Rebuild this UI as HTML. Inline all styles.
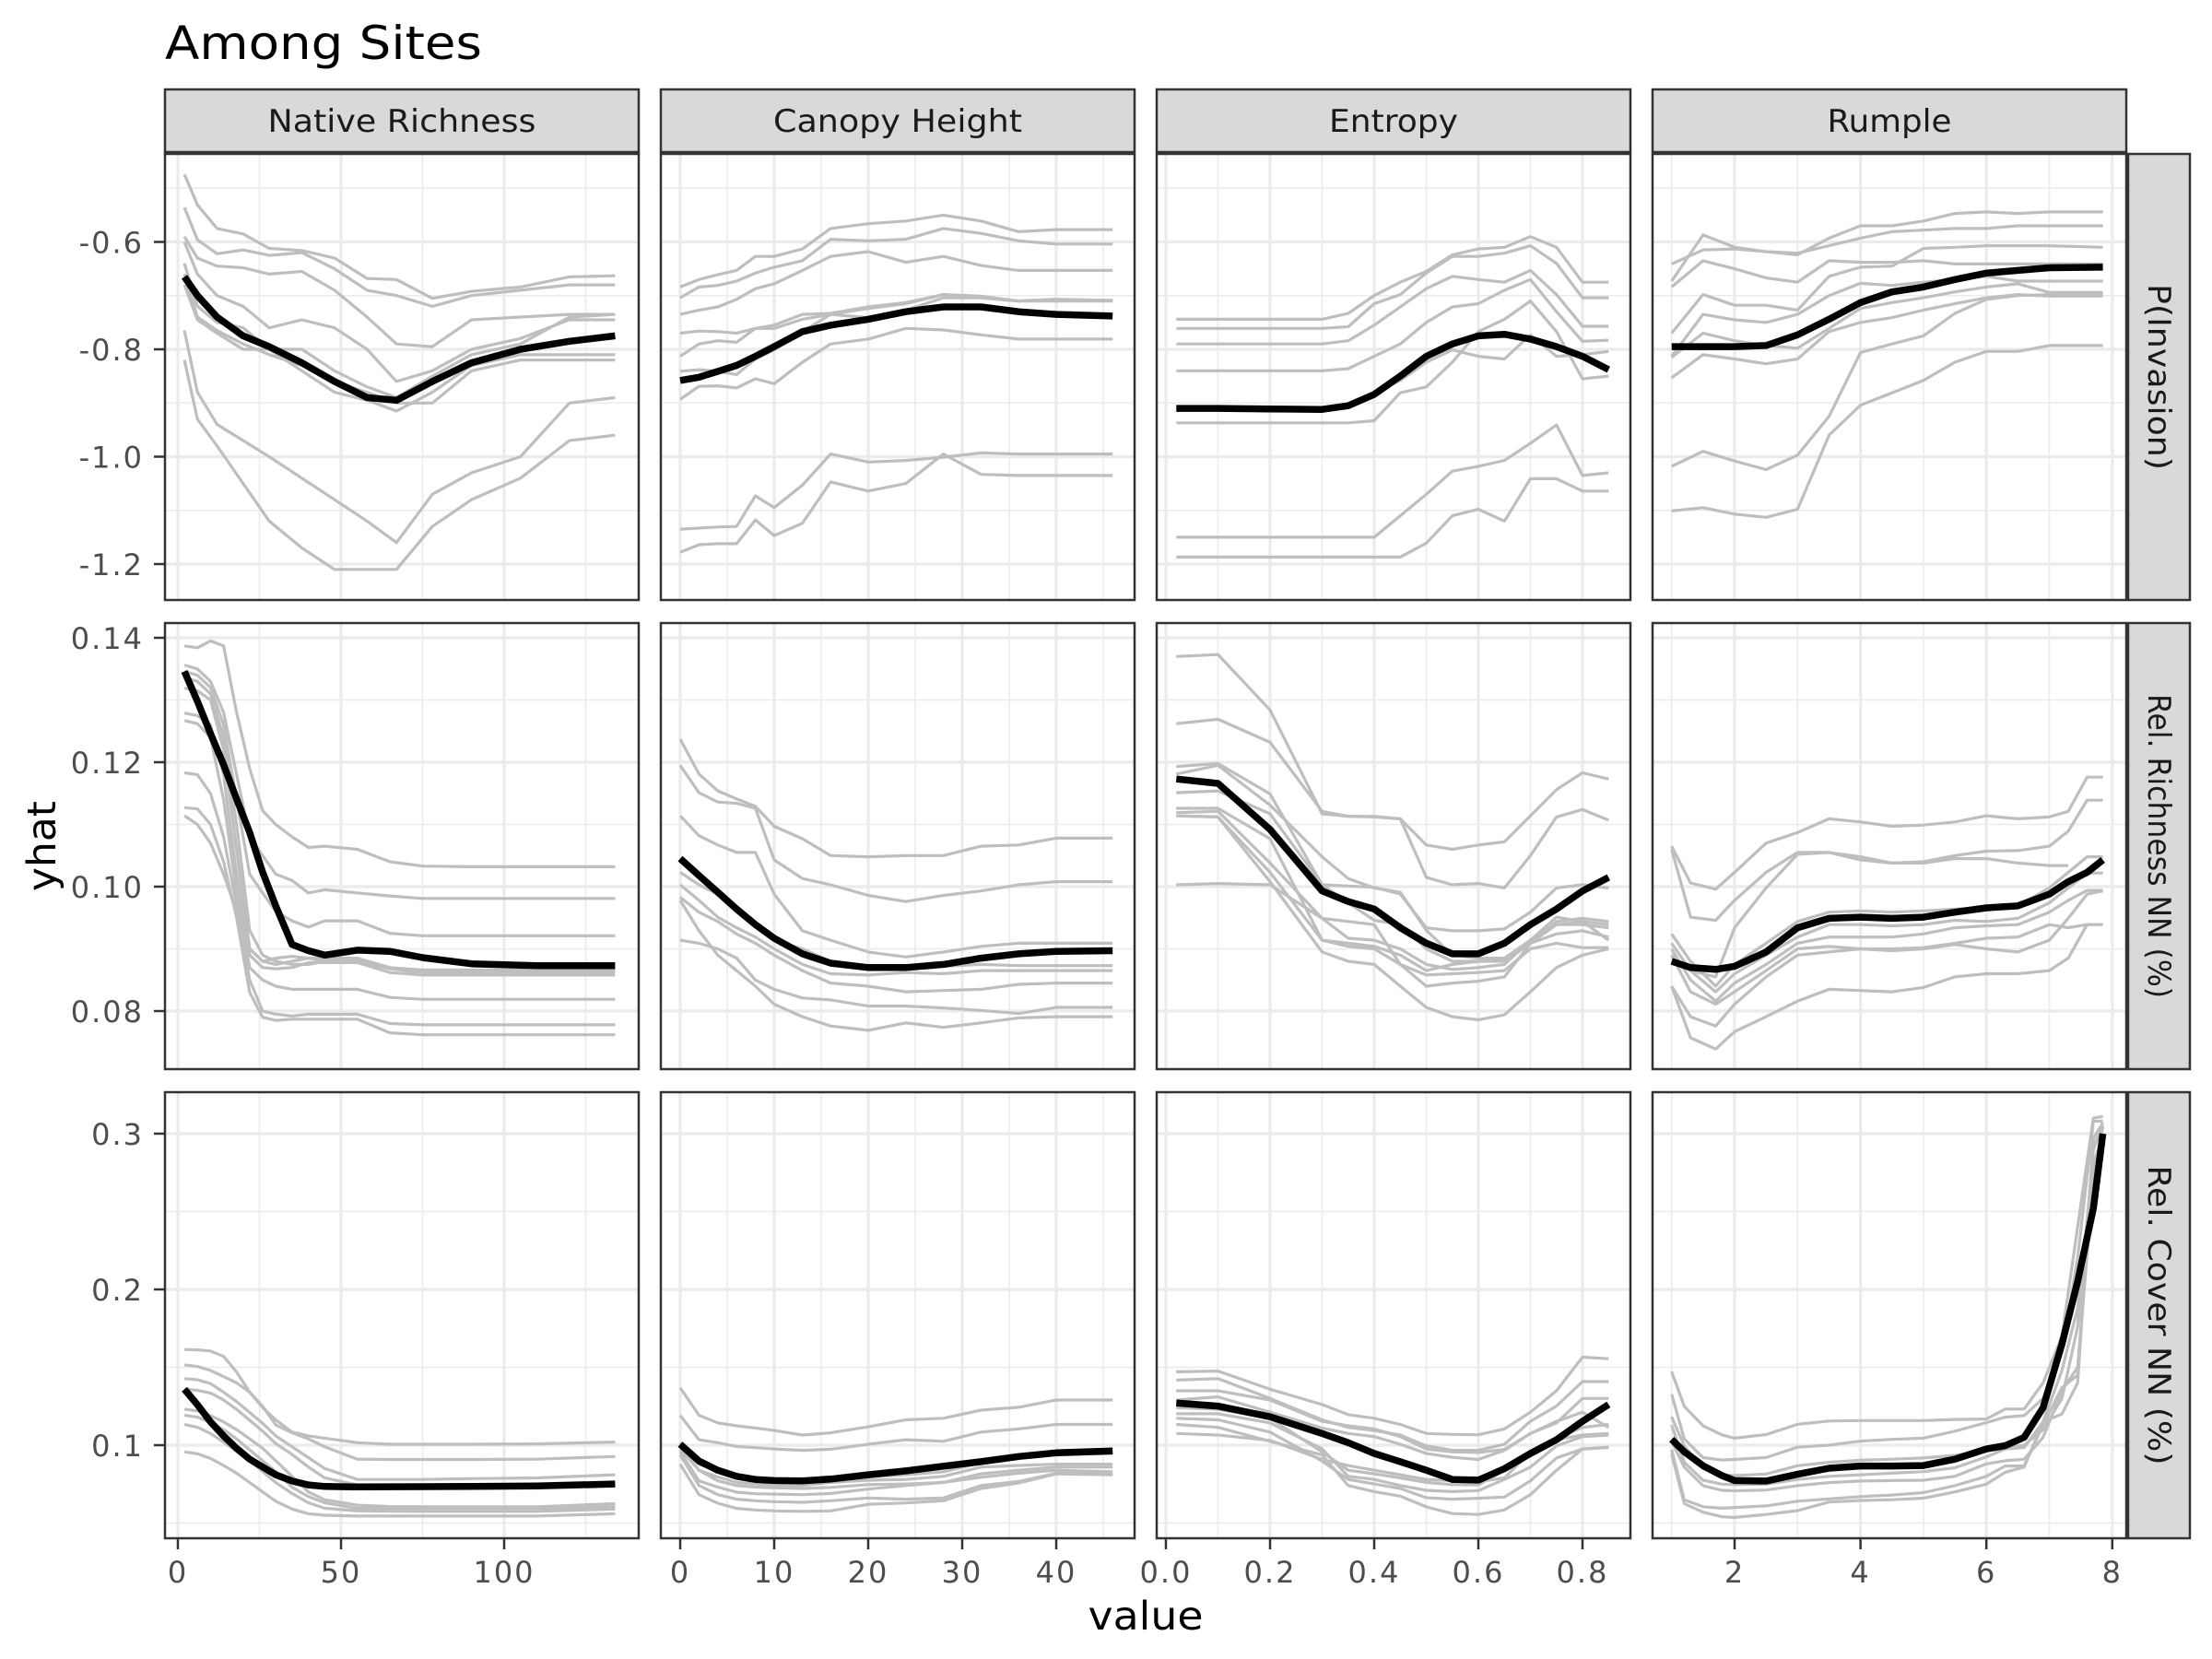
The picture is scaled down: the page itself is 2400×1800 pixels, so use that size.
<!DOCTYPE html>
<html><head><meta charset="utf-8"><style>
html,body{margin:0;padding:0;background:#fff;}
svg{display:block;font-family:"DejaVu Sans","Liberation Sans",sans-serif;}
</style></head><body>
<svg id="chart" width="2400" height="1800" viewBox="0 0 2400 1800" xmlns="http://www.w3.org/2000/svg">
<rect width="2400" height="1800" fill="#fff"/>
<text x="179" y="64" font-size="50" textLength="344" lengthAdjust="spacingAndGlyphs" fill="#000">Among Sites</text>
<text x="1243" y="1768" font-size="43" textLength="125" lengthAdjust="spacingAndGlyphs" fill="#000" text-anchor="middle">value</text>
<text transform="translate(60,918) rotate(-90)" font-size="43" textLength="98" lengthAdjust="spacingAndGlyphs" fill="#000" text-anchor="middle">yhat</text>
</svg>
<script>
// ---------- data ----------
const colNames = ["Native Richness","Canopy Height","Entropy","Rumple"];
const colLabelWidths = [291,270,140,135];
const rowNames = ["P(Invasion)","Rel. Richness NN (%)","Rel. Cover NN (%)"];
const rowLabelWidths = [202,330,325];
const xTicks = [[0,50,100],[0,10,20,30,40],[0,0.2,0.4,0.6,0.8],[2,4,6,8]];
const xTickLabels = [["0","50","100"],["0","10","20","30","40"],["0.0","0.2","0.4","0.6","0.8"],["2","4","6","8"]];
const xMinor = [[25,75,125],[5,15,25,35,45],[0.1,0.3,0.5,0.7],[1,3,5,7]];
const yTicks = [[-0.6,-0.8,-1.0,-1.2],[0.14,0.12,0.10,0.08],[0.3,0.2,0.1]];
const yTickLabels = [["-0.6","-0.8","-1.0","-1.2"],["0.14","0.12","0.10","0.08"],["0.3","0.2","0.1"]];
const yMinor = [[-0.5,-0.7,-0.9,-1.1],[0.09,0.11,0.13],[0.05,0.15,0.25]];

const xNative = [2,6,12,20,28,38,48,58,67,78,90,105,120,134];
const xNative2 = [2,6,10,14,18,22,26,30,35,40,45,55,65,75,90,110,134];
const xCanopy = [0,2,4,6,8,10,13,16,20,24,28,32,36,40,46];
const xEntropy = [0.02,0.1,0.2,0.3,0.35,0.4,0.45,0.5,0.55,0.6,0.65,0.7,0.75,0.8,0.85];
const xRumple1 = [1.0,1.5,2.0,2.5,3.0,3.5,4.0,4.5,5.0,5.5,6.0,6.5,7.0,7.85];
const xRumple2 = [1.0,1.3,1.7,2.0,2.5,3.0,3.5,4.0,4.5,5.0,5.5,6.0,6.5,7.0,7.3,7.6,7.85];
const xRumple3 = [1.0,1.2,1.5,1.8,2.0,2.5,3.0,3.5,4.0,4.5,5.0,5.5,6.0,6.3,6.6,6.9,7.2,7.45,7.7,7.85];

// row 1: P(Invasion)
const gray11 = [
[-0.474,-0.531,-0.575,-0.585,-0.612,-0.616,-0.630,-0.668,-0.670,-0.705,-0.692,-0.684,-0.665,-0.663],
[-0.536,-0.596,-0.622,-0.615,-0.625,-0.620,-0.650,-0.690,-0.700,-0.720,-0.700,-0.690,-0.680,-0.680],
[-0.590,-0.630,-0.645,-0.648,-0.660,-0.655,-0.690,-0.740,-0.790,-0.795,-0.745,-0.740,-0.735,-0.735],
[-0.600,-0.660,-0.700,-0.720,-0.760,-0.745,-0.760,-0.800,-0.860,-0.840,-0.800,-0.780,-0.745,-0.745],
[-0.640,-0.720,-0.750,-0.760,-0.800,-0.800,-0.840,-0.870,-0.890,-0.850,-0.810,-0.790,-0.740,-0.735],
[-0.660,-0.740,-0.765,-0.790,-0.810,-0.830,-0.860,-0.880,-0.900,-0.900,-0.840,-0.820,-0.820,-0.820],
[-0.680,-0.745,-0.770,-0.800,-0.800,-0.840,-0.880,-0.895,-0.915,-0.880,-0.830,-0.810,-0.810,-0.810],
[-0.765,-0.880,-0.940,-0.970,-1.000,-1.040,-1.080,-1.120,-1.160,-1.070,-1.030,-1.000,-0.900,-0.890],
[-0.820,-0.930,-0.980,-1.050,-1.120,-1.170,-1.210,-1.210,-1.210,-1.130,-1.080,-1.040,-0.970,-0.960]];
const mean11 = [-0.665,-0.700,-0.740,-0.775,-0.795,-0.825,-0.860,-0.890,-0.895,-0.860,-0.825,-0.800,-0.785,-0.775];

const gray12 = [
[-0.684,-0.670,-0.661,-0.653,-0.627,-0.627,-0.613,-0.575,-0.566,-0.561,-0.550,-0.561,-0.581,-0.577,-0.577],
[-0.704,-0.684,-0.681,-0.673,-0.658,-0.647,-0.635,-0.595,-0.598,-0.595,-0.575,-0.584,-0.598,-0.604,-0.604],
[-0.735,-0.727,-0.721,-0.707,-0.687,-0.678,-0.653,-0.627,-0.618,-0.638,-0.627,-0.644,-0.653,-0.653,-0.653],
[-0.770,-0.766,-0.767,-0.770,-0.761,-0.755,-0.735,-0.733,-0.721,-0.713,-0.698,-0.701,-0.710,-0.710,-0.710],
[-0.813,-0.790,-0.784,-0.787,-0.761,-0.761,-0.744,-0.735,-0.741,-0.727,-0.704,-0.704,-0.710,-0.707,-0.709],
[-0.841,-0.838,-0.841,-0.847,-0.818,-0.801,-0.767,-0.735,-0.724,-0.715,-0.698,-0.704,-0.710,-0.707,-0.709],
[-0.893,-0.869,-0.868,-0.872,-0.855,-0.864,-0.824,-0.790,-0.781,-0.761,-0.764,-0.773,-0.781,-0.781,-0.781],
[-1.135,-1.133,-1.131,-1.130,-1.073,-1.095,-1.053,-0.995,-1.010,-1.007,-1.001,-0.993,-0.995,-0.995,-0.995],
[-1.178,-1.164,-1.162,-1.162,-1.118,-1.147,-1.124,-1.047,-1.064,-1.050,-0.995,-1.033,-1.035,-1.035,-1.035]];
const mean12 = [-0.858,-0.852,-0.841,-0.830,-0.813,-0.795,-0.767,-0.755,-0.744,-0.730,-0.721,-0.721,-0.730,-0.735,-0.738];

const gray13 = [
[-0.744,-0.744,-0.744,-0.744,-0.733,-0.700,-0.675,-0.655,-0.624,-0.613,-0.610,-0.590,-0.610,-0.675,-0.675],
[-0.761,-0.761,-0.761,-0.761,-0.758,-0.715,-0.698,-0.658,-0.627,-0.627,-0.621,-0.607,-0.640,-0.704,-0.704],
[-0.790,-0.790,-0.790,-0.790,-0.784,-0.755,-0.721,-0.687,-0.664,-0.670,-0.675,-0.653,-0.698,-0.757,-0.757],
[-0.840,-0.840,-0.840,-0.840,-0.836,-0.813,-0.790,-0.750,-0.721,-0.715,-0.690,-0.670,-0.730,-0.785,-0.783],
[-0.910,-0.910,-0.910,-0.910,-0.904,-0.881,-0.858,-0.824,-0.801,-0.813,-0.818,-0.773,-0.813,-0.810,-0.804],
[-0.937,-0.937,-0.937,-0.937,-0.937,-0.933,-0.881,-0.870,-0.824,-0.767,-0.744,-0.710,-0.767,-0.855,-0.850],
[-1.150,-1.150,-1.150,-1.150,-1.150,-1.150,-1.110,-1.070,-1.027,-1.018,-1.007,-0.975,-0.941,-1.035,-1.030],
[-1.187,-1.187,-1.187,-1.187,-1.187,-1.187,-1.187,-1.161,-1.110,-1.098,-1.120,-1.041,-1.041,-1.064,-1.064]];
const mean13 = [-0.910,-0.910,-0.911,-0.912,-0.905,-0.884,-0.850,-0.813,-0.790,-0.775,-0.772,-0.781,-0.795,-0.813,-0.838];

const gray14 = [
[-0.641,-0.615,-0.613,-0.618,-0.624,-0.593,-0.570,-0.570,-0.561,-0.547,-0.544,-0.547,-0.544,-0.544],
[-0.673,-0.587,-0.610,-0.618,-0.621,-0.607,-0.593,-0.581,-0.578,-0.575,-0.575,-0.570,-0.570,-0.570],
[-0.684,-0.635,-0.650,-0.667,-0.675,-0.635,-0.638,-0.638,-0.635,-0.641,-0.641,-0.641,-0.641,-0.641],
[-0.770,-0.698,-0.718,-0.718,-0.727,-0.664,-0.647,-0.645,-0.612,-0.610,-0.607,-0.607,-0.607,-0.610],
[-0.813,-0.735,-0.745,-0.750,-0.735,-0.700,-0.677,-0.681,-0.675,-0.670,-0.664,-0.673,-0.673,-0.673],
[-0.815,-0.770,-0.784,-0.793,-0.798,-0.761,-0.724,-0.713,-0.704,-0.693,-0.684,-0.678,-0.694,-0.694],
[-0.853,-0.810,-0.818,-0.827,-0.818,-0.767,-0.750,-0.741,-0.727,-0.715,-0.704,-0.698,-0.701,-0.701],
[-1.018,-0.990,-1.008,-1.024,-0.997,-0.925,-0.806,-0.790,-0.775,-0.733,-0.707,-0.700,-0.698,-0.698],
[-1.101,-1.095,-1.107,-1.113,-1.098,-0.960,-0.904,-0.881,-0.858,-0.824,-0.804,-0.804,-0.793,-0.793]];
const mean14 = [-0.795,-0.795,-0.795,-0.793,-0.773,-0.744,-0.713,-0.693,-0.684,-0.670,-0.658,-0.653,-0.648,-0.647];

// row 2: Rel. Richness NN
const gray21 = [
[0.1387,0.1384,0.1395,0.1387,0.128,0.119,0.1122,0.1100,0.1080,0.1063,0.1065,0.1060,0.1040,0.1033,0.1032,0.1032,0.1032],
[0.1356,0.1350,0.1330,0.128,0.118,0.108,0.1050,0.1020,0.1010,0.0990,0.0995,0.0990,0.0985,0.0981,0.0981,0.0981,0.0981],
[0.1346,0.1340,0.1320,0.126,0.114,0.102,0.0990,0.0960,0.0945,0.0935,0.0945,0.0945,0.0925,0.0921,0.0921,0.0921,0.0921],
[0.1336,0.1330,0.1310,0.124,0.110,0.093,0.0890,0.0880,0.0875,0.0875,0.0880,0.0885,0.0870,0.0866,0.0866,0.0866,0.0866],
[0.1319,0.1315,0.1300,0.122,0.106,0.090,0.0880,0.0875,0.0880,0.0885,0.0885,0.0885,0.0868,0.0862,0.0862,0.0862,0.0862],
[0.1279,0.1275,0.1260,0.118,0.102,0.089,0.0870,0.0868,0.0870,0.0878,0.0878,0.0878,0.0862,0.0858,0.0858,0.0858,0.0858],
[0.1267,0.1262,0.124,0.114,0.099,0.087,0.0850,0.0840,0.0835,0.0835,0.0835,0.0835,0.0822,0.0819,0.0819,0.0819,0.0819],
[0.1183,0.1180,0.115,0.108,0.097,0.085,0.0800,0.0795,0.0792,0.0795,0.0795,0.0795,0.0780,0.0778,0.0778,0.0778,0.0778],
[0.1127,0.1125,0.110,0.104,0.095,0.083,0.0790,0.0785,0.0787,0.0787,0.0787,0.0787,0.0765,0.0762,0.0762,0.0762,0.0762],
[0.1114,0.1100,0.107,0.102,0.096,0.090,0.0880,0.0885,0.0888,0.0885,0.0880,0.0880,0.0868,0.0866,0.0866,0.0866,0.0866]];
const mean21 = [0.1346,0.1298,0.1246,0.1196,0.1141,0.1087,0.1023,0.0969,0.0907,0.0897,0.0890,0.0898,0.0896,0.0886,0.0876,0.0873,0.0873];

const gray22 = [
[0.1237,0.1181,0.1154,0.1141,0.1129,0.1097,0.1077,0.1050,0.1048,0.1050,0.1050,0.1065,0.1067,0.1078,0.1078],
[0.1195,0.1151,0.1136,0.1134,0.1126,0.1043,0.1013,0.1003,0.0986,0.0976,0.0986,0.0993,0.1003,0.1008,0.1008],
[0.1114,0.1082,0.1067,0.1055,0.1055,0.0988,0.0929,0.0914,0.0895,0.0887,0.0895,0.0904,0.0909,0.0909,0.0909],
[0.1023,0.1003,0.0988,0.0964,0.0939,0.0914,0.0900,0.0880,0.0870,0.0872,0.0872,0.0875,0.0873,0.0873,0.0873],
[0.1003,0.0978,0.0951,0.0934,0.0919,0.0900,0.0875,0.0860,0.0858,0.0862,0.0860,0.0865,0.0865,0.0865,0.0865],
[0.0983,0.0959,0.0944,0.0924,0.0909,0.0890,0.0865,0.0845,0.0840,0.0831,0.0833,0.0835,0.0843,0.0845,0.0845],
[0.0914,0.0909,0.0900,0.0885,0.0850,0.0835,0.0821,0.0818,0.0808,0.0808,0.0805,0.0801,0.0796,0.0806,0.0806],
[0.0978,0.0929,0.0890,0.0865,0.0840,0.0811,0.0791,0.0776,0.0769,0.0781,0.0774,0.0781,0.0789,0.0791,0.0791]];
const mean22 = [0.1045,0.1018,0.0991,0.0964,0.0939,0.0917,0.0892,0.0877,0.0870,0.0870,0.0875,0.0885,0.0892,0.0896,0.0897];

const gray23 = [
[0.1370,0.1373,0.1284,0.1117,0.1113,0.1112,0.1109,0.1067,0.1060,0.1067,0.1072,0.1114,0.1156,0.1183,0.1173],
[0.1262,0.1269,0.1232,0.1121,0.1113,0.1113,0.1109,0.1015,0.1003,0.1005,0.0998,0.1050,0.1112,0.1124,0.1107],
[0.1193,0.1198,0.1149,0.1003,0.1001,0.0999,0.0988,0.0934,0.0929,0.0929,0.0932,0.0959,0.0998,0.1003,0.0998],
[0.1181,0.1195,0.1131,0.1048,0.1013,0.0998,0.0991,0.0930,0.0890,0.0885,0.0885,0.0909,0.0944,0.0949,0.0944],
[0.1151,0.1154,0.1117,0.1003,0.0974,0.0946,0.0939,0.0900,0.0880,0.0880,0.0885,0.0914,0.0939,0.0939,0.0934],
[0.1126,0.1126,0.1077,0.0914,0.0909,0.0904,0.0890,0.0865,0.0875,0.0880,0.0880,0.0909,0.0924,0.0929,0.0919],
[0.1119,0.1121,0.1038,0.0949,0.0917,0.0914,0.0900,0.0875,0.0867,0.0870,0.0875,0.0914,0.0951,0.0944,0.0914],
[0.1114,0.1112,0.1023,0.0914,0.0904,0.0900,0.0875,0.0858,0.0860,0.0862,0.0865,0.0900,0.0909,0.0902,0.0902],
[0.1003,0.1005,0.1003,0.0949,0.0944,0.0939,0.0875,0.0840,0.0845,0.0848,0.0855,0.0909,0.0939,0.0944,0.0939],
[0.1114,0.1112,0.1008,0.0895,0.0880,0.0875,0.0840,0.0806,0.0791,0.0786,0.0794,0.0831,0.0870,0.0890,0.0900]];
const mean23 = [0.1173,0.1166,0.1092,0.0993,0.0976,0.0964,0.0934,0.0909,0.0892,0.0892,0.0909,0.0939,0.0964,0.0993,0.1015];

const gray24 = [
[0.1065,0.1006,0.0996,0.1023,0.1070,0.1087,0.1109,0.1104,0.1097,0.1099,0.1104,0.1114,0.1109,0.1112,0.1121,0.1176,0.1176],
[0.1060,0.0951,0.0946,0.0978,0.1023,0.1055,0.1055,0.1048,0.1038,0.1040,0.1050,0.1057,0.1058,0.1065,0.1089,0.1139,0.1139],
[0.0890,0.0865,0.0855,0.0934,0.0998,0.1052,0.1055,0.1043,0.1038,0.1038,0.1045,0.1045,0.1038,0.1034,0.1034,null,null],
[0.0924,0.0880,0.0840,0.0875,0.0909,0.0944,0.0959,0.0961,0.0959,0.0961,0.0964,0.0966,0.0969,0.0998,0.1023,0.1048,0.1048],
[0.0909,0.0865,0.0831,0.0860,0.0890,0.0919,0.0939,0.0939,0.0937,0.0939,0.0946,0.0944,0.0949,0.0974,0.0998,0.1022,0.1022],
[0.0900,0.0850,0.0816,0.0845,0.0875,0.0909,0.0919,0.0919,0.0919,0.0924,0.0934,0.0937,0.0939,0.0959,0.0978,0.0994,0.0994],
[0.0840,0.0791,0.0776,0.0811,0.0855,0.0890,0.0895,0.0900,0.0900,0.0902,0.0909,0.0917,0.0919,0.0939,0.0934,0.0939,0.0939],
[0.0890,0.0831,0.0811,0.0831,0.0865,0.0900,0.0904,0.0900,0.0897,0.0900,0.0907,0.0900,0.0895,0.0914,0.0949,0.0988,0.0993],
[0.0840,0.0757,0.0739,0.0767,0.0791,0.0816,0.0835,0.0833,0.0831,0.0838,0.0855,0.0860,0.0860,0.0865,0.0885,0.0939,0.0939]];
const mean24 = [0.0880,0.0870,0.0867,0.0872,0.0895,0.0934,0.0949,0.0951,0.0949,0.0951,0.0959,0.0966,0.0969,0.0988,0.1008,0.1023,0.1043];

// row 3: Rel. Cover NN
const gray31 = [
[0.1614,0.1612,0.1605,0.1570,0.1470,0.1340,0.1240,0.1163,0.1084,0.1060,0.1045,0.1016,0.1006,0.1006,0.1006,0.1008,0.1020],
[0.1516,0.1505,0.1480,0.1440,0.1400,0.1340,0.1250,0.1130,0.1080,0.1040,0.0990,0.0910,0.0908,0.0908,0.0908,0.0910,0.0927],
[0.1427,0.1420,0.1395,0.1340,0.1280,0.1210,0.1140,0.1060,0.0990,0.0920,0.0850,0.0780,0.0780,0.0780,0.0785,0.0790,0.0810],
[0.1359,0.1352,0.1335,0.1290,0.1230,0.1160,0.1090,0.1010,0.0940,0.0860,0.0790,0.0745,0.0742,0.0740,0.0735,0.0735,0.0740],
[0.1231,0.1220,0.1190,0.1150,0.1100,0.1040,0.0980,0.0900,0.0800,0.0700,0.0650,0.0615,0.0606,0.0605,0.0605,0.0605,0.0624],
[0.1192,0.1180,0.1145,0.1100,0.1040,0.0970,0.0900,0.0830,0.0730,0.0670,0.0630,0.0594,0.0594,0.0594,0.0594,0.0594,0.0604],
[0.1133,0.1115,0.1075,0.1020,0.0960,0.0900,0.0830,0.0760,0.0690,0.0630,0.0595,0.0578,0.0576,0.0575,0.0575,0.0575,0.0590],
[0.0957,0.0945,0.0915,0.0870,0.0820,0.0760,0.0700,0.0640,0.0590,0.0560,0.0550,0.0545,0.0545,0.0545,0.0545,0.0545,0.0560]];
const mean31 = [0.1359,0.1260,0.1150,0.1060,0.0980,0.0910,0.0860,0.0810,0.0770,0.0745,0.0735,0.0732,0.0733,0.0734,0.0735,0.0738,0.0751];

const gray32 = [
[0.1369,0.1192,0.1143,0.1124,0.1110,0.1094,0.1065,0.1079,0.1118,0.1163,0.1173,0.1225,0.1243,0.1290,0.1290],
[0.1192,0.1035,0.1016,0.0992,0.0984,0.0976,0.0967,0.0974,0.1006,0.1035,0.1025,0.1084,0.1104,0.1133,0.1133],
[0.1016,0.0878,0.0835,0.0796,0.0780,0.0771,0.0761,0.0773,0.0796,0.0810,0.0829,0.0888,0.0927,0.0937,0.0947],
[0.0996,0.0839,0.0796,0.0761,0.0751,0.0745,0.0741,0.0761,0.0775,0.0780,0.0800,0.0859,0.0870,0.0878,0.0878],
[0.0976,0.0839,0.0771,0.0741,0.0731,0.0727,0.0722,0.0729,0.0747,0.0751,0.0761,0.0816,0.0839,0.0859,0.0859],
[0.0957,0.0771,0.0731,0.0698,0.0688,0.0686,0.0682,0.0690,0.0718,0.0741,0.0761,0.0794,0.0820,0.0839,0.0829],
[0.0937,0.0741,0.0682,0.0653,0.0643,0.0637,0.0633,0.0643,0.0661,0.0653,0.0661,0.0741,0.0767,0.0820,0.0820],
[0.0878,0.0682,0.0627,0.0594,0.0584,0.0578,0.0575,0.0578,0.0620,0.0629,0.0643,0.0722,0.0757,0.0816,0.0810]];
const mean32 = [0.1006,0.0898,0.0839,0.0800,0.0780,0.0773,0.0771,0.0782,0.0810,0.0835,0.0865,0.0894,0.0927,0.0951,0.0963];

const gray33 = [
[0.1471,0.1476,0.1359,0.1261,0.1196,0.1173,0.1133,0.1075,0.1069,0.1067,0.1104,0.1212,0.1349,0.1565,0.1555],
[0.1418,0.1427,0.1300,0.1163,0.1114,0.1094,0.1065,0.0996,0.0967,0.0967,0.1006,0.1153,0.1251,0.1408,0.1408],
[0.1349,0.1349,0.1290,0.1153,0.1124,0.1104,0.1055,0.0976,0.0957,0.0953,0.0973,0.1075,0.1143,0.1300,0.1300],
[0.1290,0.1310,0.1212,0.1110,0.1075,0.1055,0.1006,0.0947,0.0922,0.0908,0.0967,0.1075,0.1153,0.1212,0.1114],
[0.1241,0.1231,0.1173,0.0957,0.0839,0.0816,0.0790,0.0761,0.0747,0.0745,0.0839,0.0957,0.1045,0.1114,0.1133],
[0.1202,0.1202,0.1143,0.0976,0.0800,0.0780,0.0741,0.0710,0.0702,0.0708,0.0780,0.0859,0.0996,0.1055,0.1065],
[0.1173,0.1163,0.1084,0.0898,0.0780,0.0751,0.0722,0.0663,0.0653,0.0659,0.0667,0.0771,0.0918,0.0976,0.0986],
[0.1133,0.1114,0.1025,0.0937,0.0741,0.0702,0.0673,0.0604,0.0561,0.0555,0.0584,0.0682,0.0839,0.0976,0.0986],
[0.1075,0.1065,0.1031,0.0908,0.0869,0.0839,0.0810,0.0780,0.0771,0.0765,0.0790,0.0957,0.1035,0.1065,0.1075]];
const mean33 = [0.1271,0.1251,0.1182,0.1075,0.1016,0.0947,0.0894,0.0839,0.0780,0.0776,0.0849,0.0947,0.1035,0.1153,0.1261];

const gray34 = [
[0.1472,0.1250,0.1124,0.1066,0.1045,0.1068,0.1134,0.1155,0.1158,0.1158,0.1158,0.1165,0.1168,0.1232,0.1232,0.1400,0.1700,0.2400,0.3100,0.3110],
[0.1327,0.1040,0.0920,0.0905,0.0908,0.0921,0.0987,0.1000,0.1026,0.1037,0.1045,0.1090,0.1145,0.1180,0.1190,0.1300,0.1600,0.2200,0.3080,0.3080],
[0.1182,0.0995,0.0850,0.0810,0.0805,0.0815,0.0868,0.0890,0.0903,0.0910,0.0918,0.0935,0.0965,0.0985,0.1000,0.1100,0.1300,0.1760,0.2900,0.3050],
[0.1129,0.0890,0.0775,0.0750,0.0747,0.0750,0.0780,0.0800,0.0810,0.0820,0.0830,0.0855,0.0925,0.0975,0.0985,0.1150,0.1480,0.1880,0.2800,0.3000],
[0.1024,0.0860,0.0740,0.0710,0.0707,0.0712,0.0740,0.0760,0.0770,0.0773,0.0775,0.0800,0.0880,0.0900,0.0910,0.1050,0.1350,0.1500,0.2700,0.3050],
[0.0971,0.0650,0.0605,0.0595,0.0600,0.0610,0.0640,0.0655,0.0670,0.0680,0.0695,0.0740,0.0800,0.0866,0.0866,0.1130,0.1370,0.1450,0.2970,0.3070],
[0.0945,0.0625,0.0570,0.0540,0.0536,0.0555,0.0580,0.0635,0.0645,0.0650,0.0660,0.0700,0.0750,0.0826,0.0860,0.1150,0.1200,0.1400,0.2920,0.3040]];
const mean34 = [0.1037,0.0958,0.0868,0.0805,0.0773,0.0770,0.0813,0.0852,0.0866,0.0866,0.0869,0.0910,0.0976,0.0997,0.1050,0.1240,0.1650,0.2050,0.2520,0.3000];

// ---------- layout ----------
const svg = document.getElementById('chart');
const NS = 'http://www.w3.org/2000/svg';
const PX = [179,717,1255,1793], PW = 514;
const PY = [167,676,1185], PH = 484;
const xScales = [v=>193+3.54*v, v=>738+10.2*v, v=>1265+565*v, v=>1882+68.3*(v-2)];
const yScales = [v=>379-(v+0.8)*582.5, v=>692-(v-0.14)*6750, v=>1230-(v-0.3)*1690];

const panels = [
 [[xNative,gray11,mean11],[xCanopy,gray12,mean12],[xEntropy,gray13,mean13],[xRumple1,gray14,mean14]],
 [[xNative2,gray21,mean21],[xCanopy,gray22,mean22],[xEntropy,gray23,mean23],[xRumple2,gray24,mean24]],
 [[xNative2,gray31,mean31],[xCanopy,gray32,mean32],[xEntropy,gray33,mean33],[xRumple3,gray34,mean34]]];

function mk(tag, attrs, parent){
  const el = document.createElementNS(NS, tag);
  for (const k in attrs) el.setAttribute(k, attrs[k]);
  (parent||svg).appendChild(el);
  return el;
}
function pathD(xs, ys, sx, sy){
  let d = '', pen = false;
  for (let i=0;i<xs.length;i++){
    if (ys[i]===null || ys[i]===undefined){ pen=false; continue; }
    d += (pen?'L':'M') + sx(xs[i]).toFixed(1) + ',' + sy(ys[i]).toFixed(1);
    pen = true;
  }
  return d;
}

for (let r=0;r<3;r++){
  const sy = yScales[r];
  for (let c=0;c<4;c++){
    const sx = xScales[c];
    const x0=PX[c], y0=PY[r];
    const g = mk('g',{});
    
    
    const cp = mk('clipPath',{id:'cp'+r+c}, g);
    mk('rect',{x:x0,y:y0,width:PW,height:PH}, cp);
    const bg = mk('rect',{x:x0,y:y0,width:PW,height:PH,fill:'#fff'}, g);
    
    
    const grid = mk('g',{'clip-path':'url(#cp'+r+c+')'}, g);
    
    
    xMinor[c].forEach(v=>mk('line',{x1:sx(v),x2:sx(v),y1:y0,y2:y0+PH,stroke:'#ebebeb','stroke-width':1.6},grid));
    yMinor[r].forEach(v=>mk('line',{x1:x0,x2:x0+PW,y1:sy(v),y2:sy(v),stroke:'#ebebeb','stroke-width':1.6},grid));
    xTicks[c].forEach(v=>mk('line',{x1:sx(v),x2:sx(v),y1:y0,y2:y0+PH,stroke:'#ebebeb','stroke-width':3.2},grid));
    yTicks[r].forEach(v=>mk('line',{x1:x0,x2:x0+PW,y1:sy(v),y2:sy(v),stroke:'#ebebeb','stroke-width':3.2},grid));
    const [xs, grays, mean] = panels[r][c];
    const lines = mk('g',{'clip-path':'url(#cp'+r+c+')'}, g);
    grays.forEach((ys,i)=>{
      const p = mk('path',{d:pathD(xs,ys,sx,sy),fill:'none',stroke:'#bebebe','stroke-width':3.2,'stroke-linejoin':'round'},lines);
      
      
    });
    const m = mk('path',{d:pathD(xs,mean,sx,sy),fill:'none',stroke:'#000','stroke-width':7.5,'stroke-linejoin':'round'},lines);
    
    
    const border = mk('rect',{x:x0,y:y0,width:PW,height:PH,fill:'none',stroke:'#333','stroke-width':2.5}, g);
    
    
    if (c===0){
      yTicks[r].forEach((v,i)=>{
        mk('line',{x1:x0-12,x2:x0,y1:sy(v),y2:sy(v),stroke:'#333','stroke-width':2.5},svg);
        const t = mk('text',{x:x0-23,y:sy(v)+12,'font-size':32,'letter-spacing':2,fill:'#4d4d4d','text-anchor':'end'},svg);
        t.textContent = yTickLabels[r][i];
        
        
      });
    }
    if (r===2){
      xTicks[c].forEach((v,i)=>{
        mk('line',{x1:sx(v),x2:sx(v),y1:y0+PH,y2:y0+PH+12,stroke:'#333','stroke-width':2.5},svg);
        const t = mk('text',{x:sx(v),y:1717,'font-size':32,'letter-spacing':2,fill:'#4d4d4d','text-anchor':'middle'},svg);
        t.textContent = xTickLabels[c][i];
        
        
      });
    }
  }
}
for (let c=0;c<4;c++){
  const s = mk('rect',{x:PX[c],y:97,width:PW,height:68,fill:'#d9d9d9',stroke:'#333','stroke-width':2.5});
  
  
  const t = mk('text',{x:PX[c]+PW/2,y:143,'font-size':34,textLength:colLabelWidths[c],lengthAdjust:'spacingAndGlyphs',fill:'#1a1a1a','text-anchor':'middle'});
  t.textContent = colNames[c];
  
  
}
for (let r=0;r<3;r++){
  const s = mk('rect',{x:2309,y:PY[r],width:67,height:PH,fill:'#d9d9d9',stroke:'#333','stroke-width':2.5});
  
  
  const cy = PY[r]+PH/2;
  const t = mk('text',{transform:'translate(2331,'+cy+') rotate(90)','font-size':34,textLength:rowLabelWidths[r],lengthAdjust:'spacingAndGlyphs',fill:'#1a1a1a','text-anchor':'middle'});
  t.textContent = rowNames[r];
  
  
}
</script>
</body></html>
